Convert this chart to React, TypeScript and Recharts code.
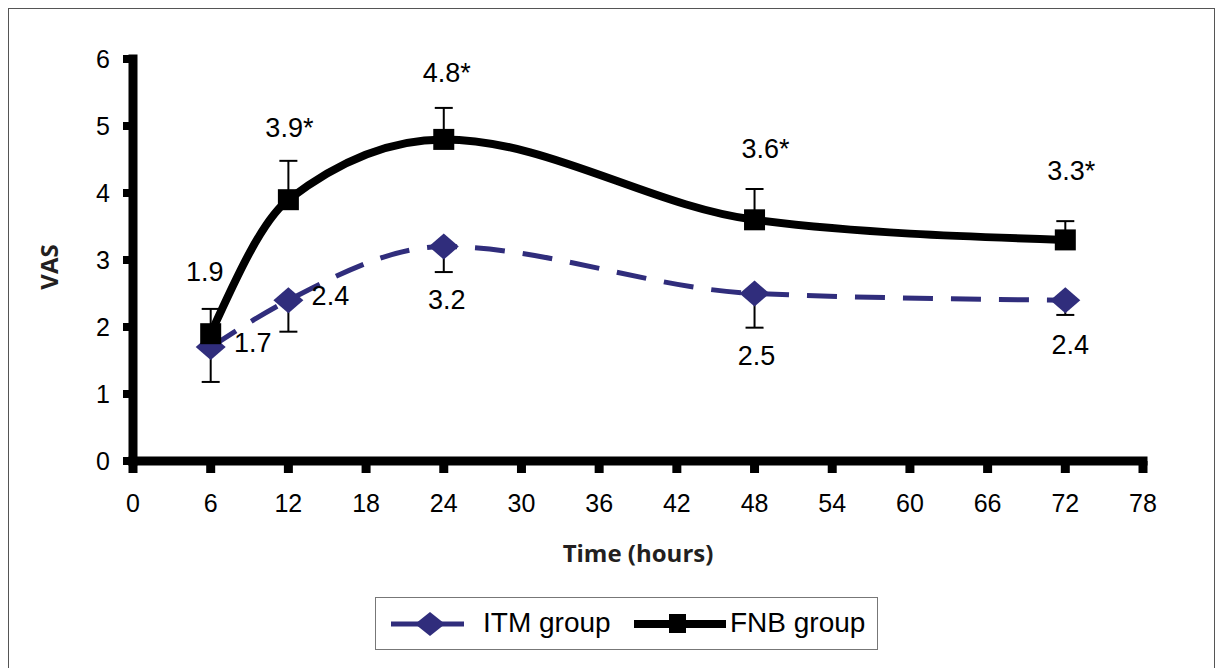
import { LineChart, Line, XAxis, YAxis, ErrorBar, LabelList, Legend, Label } from 'recharts';

const hours = [6, 12, 24, 48, 72];
const itmValues = [1.7, 2.4, 3.2, 2.5, 2.4];
const fnbValues = [1.9, 3.9, 4.8, 3.6, 3.3];
const itmSd = [0.52, 0.47, 0.38, 0.51, 0.22];
const fnbSd = [0.37, 0.58, 0.47, 0.46, 0.28];
const itmLabels = ['1.7', '2.4', '3.2', '2.5', '2.4'];
const fnbLabels = ['1.9', '3.9*', '4.8*', '3.6*', '3.3*'];
const xTicks = [0, 6, 12, 18, 24, 30, 36, 42, 48, 54, 60, 66, 72, 78];
const yTicks = [0, 1, 2, 3, 4, 5, 6];

const NAVY = '#302d7c';
const FONT = '"Liberation Sans", Arial, sans-serif';
const TITLE_FONT = '"Open Sans", "DejaVu Sans", sans-serif';

// error bars only go one way: FNB up, ITM down
const data = hours.map((h, i) => ({
  hour: h,
  itm: itmValues[i],
  fnb: fnbValues[i],
  itmErr: [itmSd[i], 0],
  fnbErr: [0, fnbSd[i]],
}));

// where each value label sits relative to its point (dx, dy)
const fnbLabelPos = [[-6, -62], [1, -72], [3, -66], [11, -71], [6, -69]];
const itmLabelPos = [[42, -4], [42, -4], [3, 53], [2, 62], [5, 45]];

const makeLabel = (texts: string[], pos: number[][]) => (props: any) => {
  const { x, y, index } = props;
  const [dx, dy] = pos[index] || [0, 0];
  return (
    <text
      x={x + dx}
      y={y + dy}
      textAnchor="middle"
      dominantBaseline="central"
      fontSize={27}
      fontFamily={FONT}
      fill="#000"
    >
      {texts[index]}
    </text>
  );
};

const SquareDot = (props: any) => {
  const { cx, cy, index } = props;
  return <rect key={`sq-${index}`} x={cx - 10.5} y={cy - 10.5} width={21} height={21} fill="#000" />;
};

const DiamondDot = (props: any) => {
  const { cx, cy, index } = props;
  return (
    <path
      key={`dm-${index}`}
      d={`M${cx - 15},${cy} L${cx},${cy - 13} L${cx + 15},${cy} L${cx},${cy + 13} Z`}
      fill={NAVY}
    />
  );
};

const LegendBox = () => (
  <div
    style={{
      width: 501,
      height: 51,
      border: '1px solid #777',
      background: '#fff',
      position: 'relative',
      fontFamily: FONT,
      fontSize: 28,
      color: '#000',
    }}
  >
    <svg width={501} height={51} style={{ position: 'absolute', left: 0, top: 0 }}>
      <line x1={15} y1={26} x2={88} y2={26} stroke={NAVY} strokeWidth={5} />
      <path d="M39,26 L54,14 L69,26 L54,38 Z" fill={NAVY} />
      <line x1={258} y1={26} x2={350} y2={26} stroke="#000" strokeWidth={8} />
      <rect x={293} y={16} width={17} height={19} fill="#000" />
    </svg>
    <span style={{ position: 'absolute', left: 107, top: 9, lineHeight: '32px' }}>ITM group</span>
    <span style={{ position: 'absolute', left: 354, top: 9, lineHeight: '32px' }}>FNB group</span>
  </div>
);

export default function App() {
  return (
    <div
      style={{
        position: 'relative',
        width: 1205,
        height: 700,
        border: '1px solid #555',
        background: '#fff',
      }}
    >
      <LineChart
        width={1205}
        height={640}
        data={data}
        margin={{ top: 50, right: 71, left: 0, bottom: 0 }}
      >
        <XAxis
          dataKey="hour"
          type="number"
          domain={[0, 78]}
          ticks={xTicks}
          interval={0}
          height={188}
          axisLine={{ stroke: '#000', strokeWidth: 9, strokeLinecap: 'square' }}
          tickLine={{ stroke: '#000', strokeWidth: 9 }}
          tickSize={12}
          tickMargin={21}
          tick={{ fontSize: 25, fill: '#000', fontFamily: FONT }}
        >
          <Label
            value="Time (hours)"
            position="insideTop"
            offset={84}
            style={{ fontSize: 24, fontWeight: 700, fill: '#231f20', fontFamily: TITLE_FONT }}
          />
        </XAxis>
        <YAxis
          type="number"
          domain={[0, 6]}
          ticks={yTicks}
          interval={0}
          width={124}
          axisLine={{ stroke: '#000', strokeWidth: 9, strokeLinecap: 'square' }}
          tickLine={{ stroke: '#000', strokeWidth: 8 }}
          tickSize={10}
          tickMargin={13}
          tick={{ fontSize: 25, fill: '#000', fontFamily: FONT }}
        >
          <Label
            content={(p: any) => {
              const vb = p.viewBox || {};
              const cy = (vb.y || 0) + (vb.height || 0) / 2 + 7;
              return (
                <text
                  x={39}
                  y={cy}
                  transform={`rotate(-90, 39, ${cy})`}
                  textAnchor="middle"
                  dominantBaseline="central"
                  fontSize={24}
                  fontWeight={700}
                  fontFamily={TITLE_FONT}
                  fill="#231f20"
                >
                  VAS
                </text>
              );
            }}
          />
        </YAxis>
        <Legend
          layout="horizontal"
          verticalAlign="middle"
          align="center"
          wrapperStyle={{ position: 'absolute', left: 366, top: 588, width: 503, height: 53 }}
          content={() => <LegendBox />}
        />
        {/* error bars first, so the markers sit on top of them */}
        <Line
          dataKey="itm"
          legendType="none"
          stroke="none"
          dot={false}
          activeDot={false}
          isAnimationActive={false}
        >
          <ErrorBar dataKey="itmErr" direction="y" width={9} stroke="#000" strokeWidth={2} />
        </Line>
        <Line
          dataKey="fnb"
          legendType="none"
          stroke="none"
          dot={false}
          activeDot={false}
          isAnimationActive={false}
        >
          <ErrorBar dataKey="fnbErr" direction="y" width={9} stroke="#000" strokeWidth={2} />
        </Line>
        <Line
          type="monotone"
          dataKey="itm"
          name="ITM group"
          stroke={NAVY}
          strokeWidth={5}
          strokeDasharray="30 18"
          dot={DiamondDot}
          activeDot={false}
          isAnimationActive={false}
        >
          <LabelList dataKey="itm" content={makeLabel(itmLabels, itmLabelPos)} />
        </Line>
        <Line
          type="monotone"
          dataKey="fnb"
          name="FNB group"
          stroke="#000"
          strokeWidth={8}
          dot={SquareDot}
          activeDot={false}
          isAnimationActive={false}
        >
          <LabelList dataKey="fnb" content={makeLabel(fnbLabels, fnbLabelPos)} />
        </Line>
      </LineChart>
    </div>
  );
}
